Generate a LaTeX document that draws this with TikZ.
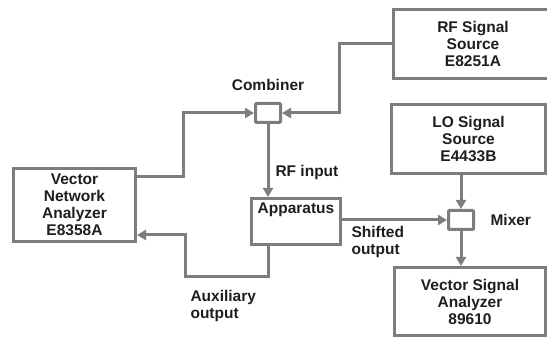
\documentclass[tikz,border=0pt]{standalone}
\usepackage{fontspec}
\setmainfont{Liberation Sans}
\usepackage{tikz}
\usetikzlibrary{arrows.meta, positioning, calc}
\definecolor{mygray}{RGB}{125,125,125}
\definecolor{mydark}{RGB}{30,30,30}
\tikzset{
  block/.style={rectangle, draw=mygray, fill=white, line width=3pt,
    align=center, text=mydark, font=\fontsize{15.5}{17}\selectfont\bfseries},
  junc/.style={rectangle, draw=mygray, fill=white, line width=3pt,
    minimum width=25pt, minimum height=19pt, rounded corners=1pt},
  arrow/.style={-{Triangle[length=9pt,width=10pt]}, line width=3pt, color=mygray},
  line/.style={line width=3pt, color=mygray},
  lbl/.style={text=mydark, font=\fontsize{15.5}{17}\selectfont\bfseries, align=left}
}
\begin{document}
\begin{tikzpicture}[x=1pt, y=1pt, node distance=8pt and 12pt]
  \clip (0,0) rectangle (547,339);

  % Nodes
  \node[block, minimum width=122pt, minimum height=73pt] (vna) at (74.5,134)
    {Vector\\Network\\Analyzer\\E8358A};
  \node[junc] (comb) at (268,226) {};
  \node[block, minimum width=160pt, minimum height=69pt] (rf) at (473,295)
    {RF Signal\\Source\\E8251A};
  \node[block, minimum width=154pt, minimum height=69pt] (lo) at (468.5,200)
    {LO Signal\\Source\\E4433B};
  \node[junc] (mix) at (461,119) {};
  \node[block, minimum width=151pt, minimum height=68pt] (vsa) at (470,37.5)
    {Vector Signal\\Analyzer\\89610};
  \node[block, minimum width=89pt, text height=12pt, text depth=27pt, anchor=north] (app) at (296,142)
    {Apparatus};

  % Labels
  \node[lbl, above=of comb] (combl) {Combiner};
  \node[lbl, right=of mix] (mixl) {Mixer};
  \node[lbl, anchor=west] (rfin) at (272,167) {RF input};
  \node[lbl, anchor=west] (shift) at (348,97) {Shifted\\output};
  \node[lbl, anchor=west] (aux) at (187,33) {Auxiliary\\output};

  % Paths
  \draw[arrow] ([yshift=28pt]vna.east) -- ++(46,0) |- (comb.west);
  \draw[arrow] (rf.west) -- ++(-52,0) |- (comb.east);
  \draw[arrow] (comb.south) -- (comb.south |- app.north);
  \draw[arrow] (app.east |- mix.west) -- (mix.west);
  \draw[arrow] (mix.north |- lo.south) -- (mix.north);
  \draw[arrow] (mix.south) -- (mix.south |- vsa.north);

  % Auxiliary path
  \coordinate (auxin) at ([yshift=-30pt]vna.east);
  \draw[arrow] (comb.south |- app.south) -- ++(0,-31) -| ([xshift=48pt]auxin) -- (auxin);
\end{tikzpicture}
\end{document}
